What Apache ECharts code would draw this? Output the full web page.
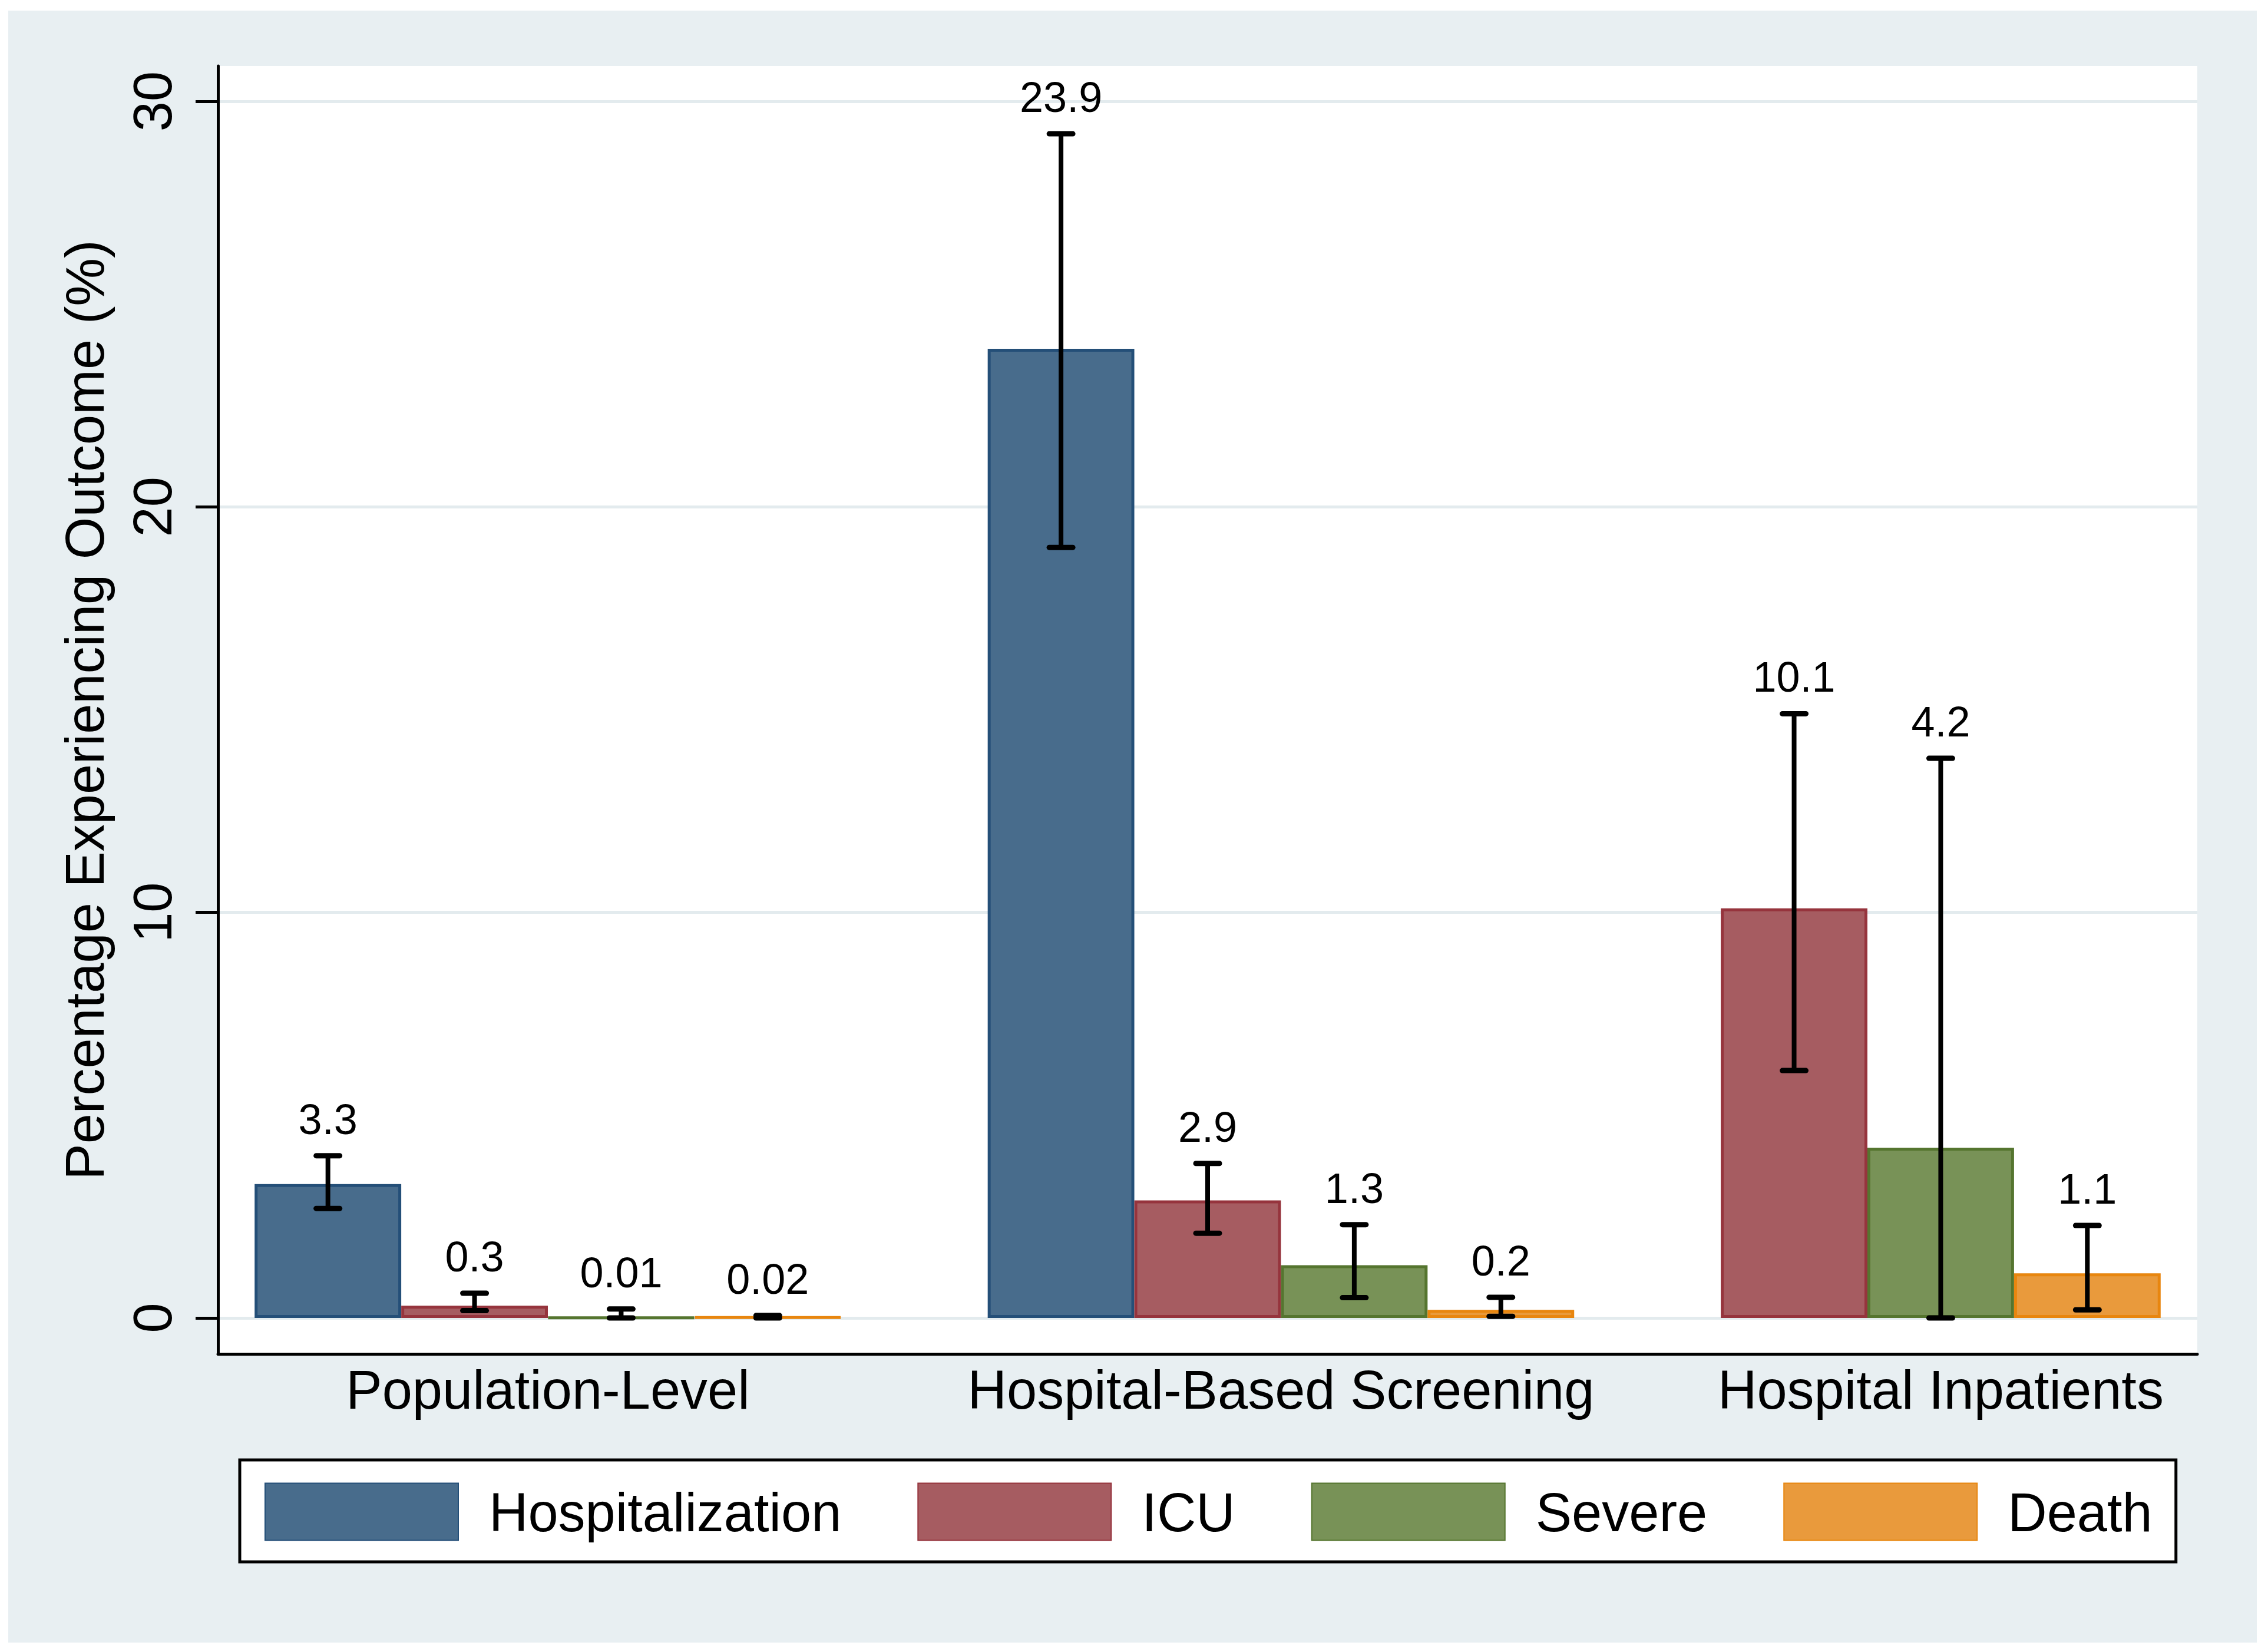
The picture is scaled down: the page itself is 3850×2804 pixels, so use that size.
<!DOCTYPE html>
<html>
<head>
<meta charset="utf-8">
<title>Outcomes by setting</title>
<script src="https://cdn.jsdelivr.net/npm/echarts@6/dist/echarts.min.js"></script>
<style>
  html, body { margin: 0; padding: 0; background: #fff; }
  #chart { width: 3850px; height: 2804px; }
</style>
</head>
<body>
<div id="chart"></div>
<script>
// data
const categories = ["Population-Level", "Hospital-Based Screening", "Hospital Inpatients"];
const outcomes = ["Hospitalization", "ICU", "Severe", "Death"];

const hospitalization = [3.3, 23.9, null];
const icu = [0.3, 2.9, 10.1];
const severe = [0.01, 1.3, 4.2];
const death = [0.02, 0.2, 1.1];

// 95% CI bounds
const hospLow = [2.7, 19.0, null];
const hospHigh = [4.0, 29.2, null];
const icuLow = [0.18, 2.09, 6.1];
const icuHigh = [0.61, 3.81, 14.9];
const severeLow = [0.0, 0.5, 0.0];
const severeHigh = [0.22, 2.3, 13.8];
const deathLow = [0.0, 0.04, 0.2];
const deathHigh = [0.06, 0.51, 2.28];

const yTicks = [0, 10, 20, 30];

// stata-ish colours
const fills = ["#486C8C", "#A65C61", "#789257", "#E99A3C"];
const borders = ["#244F78", "#96343D", "#55752F", "#E8860F"];

const FONT = "'Liberation Sans', Arial, Helvetica, sans-serif";

const values = [hospitalization, icu, severe, death];
const lows = [hospLow, icuLow, severeLow, deathLow];
const highs = [hospHigh, icuHigh, severeHigh, deathHigh];

// one slot per drawn bar, one empty slot between groups (missing bars are dropped like stata does)
const slots = [];
const groupCenters = [];
categories.forEach(function (cat, ci) {
  if (ci > 0) slots.push({ gap: true });
  const start = slots.length;
  outcomes.forEach(function (o, oi) {
    if (values[oi][ci] == null) return;
    slots.push({ cat: ci, outcome: oi });
  });
  groupCenters.push((start + slots.length) / 2);
});

const barSeries = outcomes.map(function (name, oi) {
  return {
    name: name,
    type: "bar",
    xAxisIndex: 1,
    yAxisIndex: 1,
    barGap: "-100%",
    barCategoryGap: "0%",
    itemStyle: { color: fills[oi], borderColor: borders[oi], borderWidth: 5 },
    data: slots.map(function (s) {
      return (!s.gap && s.outcome === oi) ? values[oi][s.cat] : "-";
    })
  };
});

const ciData = [];
slots.forEach(function (s, i) {
  if (s.gap) return;
  ciData.push([i, lows[s.outcome][s.cat], highs[s.outcome][s.cat], values[s.outcome][s.cat]]);
});

// plot frame in px
const plotL = 370, plotR = 3730, plotT = 112, plotB = 2298;
const edge = 0.25;  // outer margin, in bar widths
const unit = (plotR - plotL) / (slots.length + 2 * edge);
const zeroY = 2237, topY = 172;  // where 0 and 30 sit

const chart = echarts.init(document.getElementById("chart"), null, { renderer: "canvas" });

chart.setOption({
  backgroundColor: "#ffffff",
  animation: false,
  textStyle: { fontFamily: FONT },
  graphic: [{
    type: "rect",
    z: -100,
    shape: { x: 14, y: 18, width: 3817, height: 2770 },
    style: { fill: "#E8EFF2" }
  }],
  grid: [
    // ticks, tick labels, gridlines
    { left: plotL, right: 3850 - plotR, top: topY, bottom: 2804 - zeroY, show: false },
    // bars
    { left: plotL + edge * unit, right: 3850 - plotR + edge * unit, top: topY, bottom: 2804 - zeroY, show: false },
    // white plot region and axis lines
    { left: plotL, right: 3850 - plotR, top: plotT, bottom: 2804 - plotB, show: true,
      backgroundColor: "#ffffff", borderWidth: 0 }
  ],
  xAxis: [
    { gridIndex: 0, type: "value", min: 0, max: 1, show: false },
    { gridIndex: 1, type: "category", data: slots.map(function (s, i) { return String(i); }),
      boundaryGap: true, show: false },
    { gridIndex: 2, type: "value", min: -edge, max: slots.length + edge,
      axisLine: { show: true, onZero: false, lineStyle: { color: "#000", width: 5 } },
      axisTick: { show: false },
      splitLine: { show: false },
      axisLabel: {
        customValues: groupCenters,
        formatter: function (v) {
          const i = groupCenters.findIndex(function (c) { return Math.abs(c - v) < 1e-6; });
          return i >= 0 ? categories[i] : "";
        },
        margin: 22,
        color: "#000",
        fontSize: 92,
        lineHeight: 92,
        fontFamily: FONT
      }
    }
  ],
  yAxis: [
    { gridIndex: 0, type: "value", min: yTicks[0], max: yTicks[yTicks.length - 1], interval: 10,
      axisLine: { show: false },
      axisTick: { show: true, length: 38, lineStyle: { color: "#000", width: 5 } },
      axisLabel: { rotate: 90, margin: 58, color: "#000", fontSize: 92, lineHeight: 92, fontFamily: FONT },
      splitLine: { show: true, lineStyle: { color: "#E3EBEE", width: 5 } }
    },
    { gridIndex: 1, type: "value", min: yTicks[0], max: yTicks[yTicks.length - 1], show: false },
    { gridIndex: 2, type: "value", min: 0, max: 1,
      axisLine: { show: true, onZero: false, lineStyle: { color: "#000", width: 5 } },
      axisTick: { show: false },
      axisLabel: { show: false },
      splitLine: { show: false },
      name: "Percentage Experiencing Outcome (%)",
      nameLocation: "middle",
      nameGap: 173,
      nameTextStyle: { color: "#000", fontSize: 92, lineHeight: 92, fontFamily: FONT }
    }
  ],
  legend: {
    data: outcomes,
    orient: "horizontal",
    left: 407,
    top: 2478,
    padding: [34, 40, 31, 42],
    itemWidth: 328,
    itemHeight: 97,
    itemGap: 129,
    icon: "rect",
    backgroundColor: "#ffffff",
    borderColor: "#000",
    borderWidth: 5,
    borderRadius: 0,
    formatter: "{t|{name}}",
    textStyle: {
      color: "#000", fontSize: 92, lineHeight: 62, fontFamily: FONT,
      rich: { t: { color: "#000", fontSize: 92, lineHeight: 62, fontFamily: FONT, padding: [16, 0, 0, 47] } }
    }
  },
  series: barSeries.concat([{
    name: "ci",
    type: "custom",
    xAxisIndex: 1,
    yAxisIndex: 1,
    z: 5,
    data: ciData,
    renderItem: function (params, api) {
      const x = api.value(0);
      const lo = api.coord([x, api.value(1)]);
      const hi = api.coord([x, api.value(2)]);
      const cap = 20;
      const ls = { stroke: "#000", lineWidth: 9, lineCap: "round" };
      return {
        type: "group",
        children: [
          { type: "line", shape: { x1: lo[0], y1: lo[1], x2: hi[0], y2: hi[1] }, style: { stroke: "#000", lineWidth: 8 } },
          { type: "line", shape: { x1: lo[0] - cap, y1: lo[1], x2: lo[0] + cap, y2: lo[1] }, style: ls },
          { type: "line", shape: { x1: hi[0] - cap, y1: hi[1], x2: hi[0] + cap, y2: hi[1] }, style: ls },
          { type: "text", x: hi[0], y: hi[1] - 21,
            style: { text: String(api.value(3)), align: "center", verticalAlign: "bottom",
              fill: "#000", fontSize: 72, lineHeight: 72, fontFamily: FONT } }
        ]
      };
    }
  }])
});
</script>
</body>
</html>
